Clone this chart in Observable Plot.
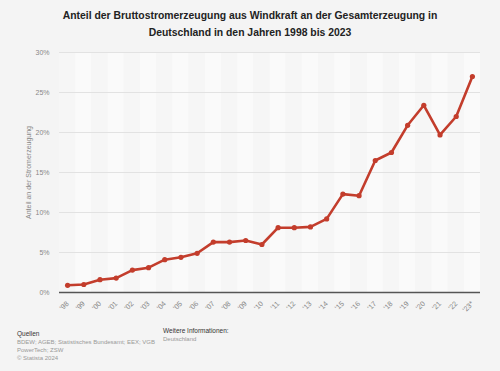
<!DOCTYPE html>
<html><head><meta charset="utf-8">
<script src="https://cdn.jsdelivr.net/npm/d3@7"></script>
<script src="https://cdn.jsdelivr.net/npm/@observablehq/plot@0.6"></script>
<style>
html,body{margin:0;padding:0;background:#f4f4f4;}
#wrap{position:relative;width:500px;height:371px;font-family:"Liberation Sans",Arial,sans-serif;}
#title{position:absolute;left:0;top:8px;width:500px;text-align:center;font-weight:bold;font-size:10.4px;line-height:16.6px;color:#222;}
.ft{position:absolute;font-size:6px;line-height:8px;color:#999;white-space:nowrap;}
.ft b{color:#333;font-weight:normal;font-size:6.5px;}
#chart{position:absolute;left:0;top:0;}
</style></head>
<body><div id="wrap">
<div id="chart"></div>
<div id="title">Anteil der Bruttostromerzeugung aus Windkraft an der Gesamterzeugung in<br>Deutschland in den Jahren 1998 bis 2023</div>
<div class="ft" style="left:17px;top:330px;"><b>Quellen</b><br>BDEW; AGEB; Statistisches Bundesamt; EEX; VGB<br>PowerTech; ZSW<br>© Statista 2024</div>
<div class="ft" style="left:163px;top:327px;"><b>Weitere Informationen:</b><br>Deutschland</div>
</div>
<script>
const years = ["'98","'99","'00","'01","'02","'03","'04","'05","'06","'07","'08","'09","'10","'11","'12","'13","'14","'15","'16","'17","'18","'19","'20","'21","'22","'23*"];
const values = [0.9,1.0,1.6,1.8,2.8,3.1,4.1,4.4,4.9,6.3,6.3,6.5,6.0,8.1,8.1,8.2,9.2,12.3,12.1,16.5,17.5,20.9,23.4,19.7,22.0,27.0];
const yTicks = [0,5,10,15,20,25,30];

const data = years.map((y,i)=>({year:y, value:values[i]}));

const chart = Plot.plot({
  width:500, height:371,
  marginTop:52, marginBottom:79, marginLeft:59, marginRight:20,
  style:{background:"transparent", fontFamily:"Liberation Sans, Arial, sans-serif"},
  x:{type:"band", domain:years, padding:0, round:false, axis:null},
  y:{domain:[0,30]},
  marks:[
    Plot.barY(years,{x:d=>d, y1:0, y2:30, fill:(d,i)=>i%2 ? "#fafafa" : "#f6f6f6"}),
    Plot.ruleY(yTicks.filter(d=>d>0),{stroke:"#e2e2e2", strokeWidth:1}),
    Plot.ruleY([0],{stroke:"#555", strokeWidth:1.3}),
    Plot.axisY({ticks:yTicks, tickFormat:d=>d+"%", tickSize:0, tickPadding:10, fontSize:7, color:"#888",
      label:"Anteil an der Stromerzeugung", labelAnchor:"center", labelArrow:"none", labelOffset:33}),
    Plot.text(years,{x:d=>d, y:0, text:d=>d, rotate:-45, textAnchor:"end", dy:10, dx:0, fontSize:7.2, fill:"#888"}),
    Plot.line(data,{x:"year", y:"value", stroke:"#c33d2c", strokeWidth:2.6}),
    Plot.dot(data,{x:"year", y:"value", r:2.6, fill:"#c33d2c"})
  ]
});
document.getElementById("chart").appendChild(chart);
</script>
</body></html>
